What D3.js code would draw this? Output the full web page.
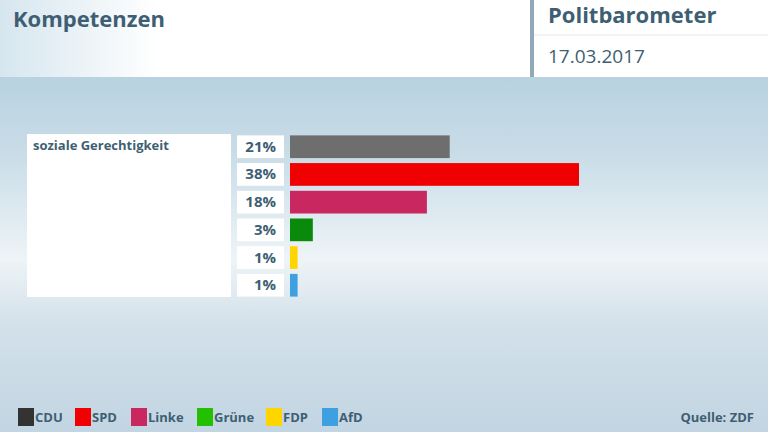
<!DOCTYPE html><html><head><meta charset="utf-8">
<script src="https://cdn.jsdelivr.net/npm/d3@7"></script>
<style>body{margin:0}svg{display:block}text{font-family:"Open Sans",sans-serif}</style></head><body>
<svg id="c" width="768" height="432"></svg>
<script>
const parties=["CDU","SPD","Linke","Grüne","FDP","AfD"];
const values=[21,38,18,3,1,1];
const barColors=["#6e6e6e","#f00000","#c8285f","#0a8a0a","#ffd500","#3ea0e0"];
const legendColors=["#333333","#f00000","#c8285f","#22c000","#ffd500","#3ea0e0"];
const category="soziale Gerechtigkeit";
const svg=d3.select("#c");
const defs=svg.append("defs");
const g=defs.append("linearGradient").attr("id","bg").attr("x1",0).attr("x2",0).attr("y1",0).attr("y2",1);
[[0,"#a9c8da"],[0.35,"#c8dce7"],[0.6,"#eef4f7"],[0.75,"#d3e1ea"],[1,"#c2d5e2"]].forEach(s=>g.append("stop").attr("offset",s[0]).attr("stop-color",s[1]));
const hg=defs.append("linearGradient").attr("id","hd").attr("x1",0).attr("x2",1);
hg.append("stop").attr("offset",0).attr("stop-color","#d6e6ef");hg.append("stop").attr("offset",0.3).attr("stop-color","#ffffff");
svg.append("rect").attr("width",768).attr("height",432).attr("fill","url(#bg)");
svg.append("rect").attr("width",530).attr("height",77).attr("fill","url(#hd)");
svg.append("rect").attr("x",530).attr("width",4).attr("height",77).attr("fill","#8fa9b8");
svg.append("rect").attr("x",534).attr("width",234).attr("height",77).attr("fill","#fff");
svg.append("line").attr("x1",534).attr("x2",768).attr("y1",35).attr("y2",35).attr("stroke","#dfe8ee");
svg.append("text").attr("x",13).attr("y",27).text("Kompetenzen").attr("font-size",22).attr("font-weight","bold").attr("fill","#3e5f73");
svg.append("text").attr("x",548).attr("y",23).text("Politbarometer").attr("font-size",22).attr("font-weight","bold").attr("fill","#3e5f73");
svg.append("text").attr("x",548).attr("y",63).text("17.03.2017").attr("font-size",19).attr("fill","#3e5f73");
const x=d3.scaleLinear().domain([0,38]).range([290,579]);
const y=d3.scaleBand().domain(parties).range([134,298]).paddingInner(0.18).paddingOuter(0.05);
svg.append("rect").attr("x",27).attr("y",134).attr("width",204).attr("height",163).attr("fill","#fff");
svg.append("text").attr("x",33).attr("y",150).text(category).attr("font-size",13).attr("font-weight","bold").attr("fill","#3e5f73");
parties.forEach((p,i)=>{
 svg.append("rect").attr("x",237).attr("y",y(p)).attr("width",47).attr("height",y.bandwidth()).attr("fill","#fff");
 svg.append("text").attr("x",276).attr("y",y(p)+y.bandwidth()/2+5).attr("text-anchor","end").text(values[i]+"%").attr("font-size",15).attr("font-weight","bold").attr("fill","#3e5f73");
 svg.append("rect").attr("x",x(0)).attr("y",y(p)).attr("width",x(values[i])-x(0)).attr("height",y.bandwidth()).attr("fill",barColors[i]);
});
const lx=[18,75,131,197,266,322];
parties.forEach((p,i)=>{
 svg.append("rect").attr("x",lx[i]).attr("y",408).attr("width",16).attr("height",18).attr("fill",legendColors[i]);
 svg.append("text").attr("x",lx[i]+17).attr("y",422).text(p).attr("font-size",13).attr("font-weight","bold").attr("fill","#3e5f73");
});
svg.append("text").attr("x",754).attr("y",422).attr("text-anchor","end").text("Quelle: ZDF").attr("font-size",13).attr("font-weight","bold").attr("fill","#3e5f73");
</script></body></html>
